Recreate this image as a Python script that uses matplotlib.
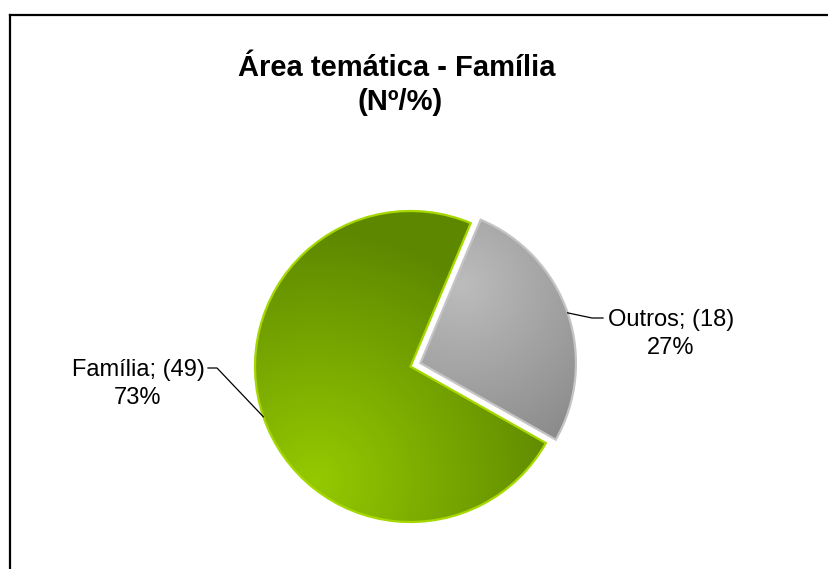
import numpy as np
import matplotlib
matplotlib.use("Agg")
import matplotlib.pyplot as plt
from matplotlib.lines import Line2D

plt.rcParams['font.family'] = ['Liberation Sans', 'DejaVu Sans']

# data
labels = ["Outros", "Família"]
counts = [18, 49]
percents = ["27%", "73%"]
title_lines = ["Área temática - Família", "(Nº/%)"]

W, H = 829, 569
fig = plt.figure(figsize=(W / 100, H / 100), dpi=100)
ax = fig.add_axes([0, 0, 1, 1])

cx, cy, r = 410.5, H - 366.5, 155.5
# explode is in data units (pixels here)
wedges, _ = ax.pie(counts, explode=[10.5, 0], startangle=-29.5, counterclock=True,
                   center=(cx, cy), radius=r,
                   wedgeprops=dict(facecolor='none', linewidth=1.6))
ax.set_xlim(0, W)
ax.set_ylim(0, H)
ax.set_aspect('equal')
ax.axis('off')

# gradient fills (radial), clipped to each wedge
xx, yy = np.meshgrid(np.arange(W) + 0.5, np.arange(H) + 0.5)

def radial_fill(wedge, center, spread, light, dark, edge):
    d = np.hypot(xx - center[0], yy - center[1])
    t = np.clip(d / spread, 0, 1)[..., None]
    light = np.array(matplotlib.colors.to_rgb(light))
    dark = np.array(matplotlib.colors.to_rgb(dark))
    img = light * (1 - t) + dark * t
    im = ax.imshow(img, extent=(0, W, 0, H), origin='lower', zorder=0.5,
                   interpolation='bilinear')
    im.set_clip_path(wedge)
    wedge.set_edgecolor(edge)
    wedge.set_zorder(1)

radial_fill(wedges[0], (462, H - 285), 175, '#bcbcbc', '#8c8c8c', '#c4c4c4')
radial_fill(wedges[1], (316, H - 480), 250, '#94ca00', '#5e8700', '#a6d800')

# labels with leader lines
label_pos = [(671, H - 334), (138, H - 384)]
elbows = [((592, H - 318), (603, H - 318)), ((217, H - 368), (208, H - 368))]
for w, lab, n, pct, pos, (e1, e2) in zip(wedges, labels, counts, percents, label_pos, elbows):
    mid = np.deg2rad((w.theta1 + w.theta2) / 2)
    wx = w.center[0] + w.r * np.cos(mid)
    wy = w.center[1] + w.r * np.sin(mid)
    ax.plot([wx, e1[0], e2[0]], [wy, e1[1], e2[1]], color='black', lw=0.9, zorder=2)
    ax.text(pos[0], pos[1], f"{lab}; ({n})\n{pct}", ha='center', va='center',
            fontsize=17, linespacing=1.3, zorder=3)

# title
ax.text(397, H - 76, title_lines[0], ha='center', va='baseline',
        fontsize=21, fontweight='bold')
ax.text(400, H - 110, title_lines[1], ha='center', va='baseline',
        fontsize=21, fontweight='bold')

# chart area frame (only left and top edges are inside the picture)
fig.add_artist(Line2D([10 / W, 10 / W], [0, 1 - 15 / H], transform=fig.transFigure,
                      color='black', lw=1.6))
fig.add_artist(Line2D([10 / W, 1], [1 - 15 / H, 1 - 15 / H], transform=fig.transFigure,
                      color='black', lw=1.6))

fig.savefig("out.png", dpi=100, facecolor='white')
